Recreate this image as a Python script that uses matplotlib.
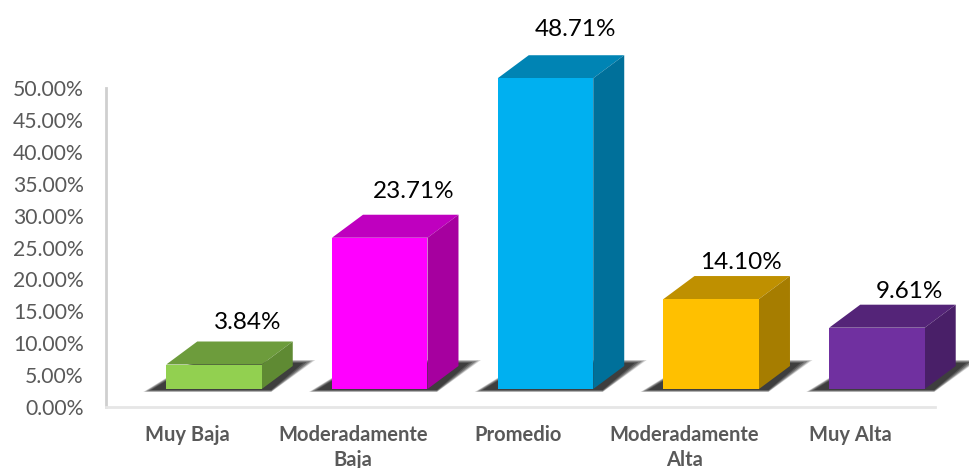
import matplotlib
matplotlib.use('Agg')
import matplotlib.pyplot as plt

plt.rcParams['font.family'] = ['Lato', 'DejaVu Sans']

categorias = ['Muy Baja', 'Moderadamente\nBaja', 'Promedio', 'Moderadamente\nAlta', 'Muy Alta']
valores = [3.84, 23.71, 48.71, 14.10, 9.61]
etiquetas = ['3.84%', '23.71%', '48.71%', '14.10%', '9.61%']
ticks_y = [0, 5, 10, 15, 20, 25, 30, 35, 40, 45, 50]

color_frente = ['#92D050', '#FF00FF', '#00B0F0', '#FFC000', '#7030A0']
color_arriba = ['#6D9C3C', '#BF00BF', '#0084B4', '#BF9000', '#542478']
color_lado = ['#5F8A33', '#A6009F', '#00709A', '#A67D00', '#491F68']

# desplazamiento a mano de cada etiqueta respecto a la cara frontal (px)
etiqueta_dx = [34, 34, 30, 30, 32]
etiqueta_dy = [42, 46, 49, 37, 36]

W, H = 969, 468
IZQ, DER, ABAJO, ARRIBA = 106, 935, 407, 88  # ejes en px

fig = plt.figure(figsize=(W / 100, H / 100), dpi=100)
ax = fig.add_axes([IZQ / W, 1 - ABAJO / H, (DER - IZQ) / W, (ABAJO - ARRIBA) / H])
ax.set_xlim(-0.4887, 4.513)
ax.set_ylim(0, 50)

px_x = 165.75  # px por categoria
px_y = (ABAJO - ARRIBA) / 50.0  # px por 1%


def ux(p):
    return p / px_x


def uy(p):
    return p / px_y


piso = uy(18)  # las barras no salen del eje, sino de un piso 18 px arriba
ancho = ux(95.5)
off = ux(27)
fx = ux(31)
fy = uy(23)


def sombra(x0):
    # capas para simular el difuminado de la sombra
    capas = [(0, 0.18), (2, 0.25), (4, 0.32), (7, 0.4), (10, 0.45)]
    for m, a in capas:
        xs = [x0 + ux(-23 + m * 0.8), x0 + ux(105), x0 + ux(149 - m * 1.2), x0 + ux(29)]
        ys = [piso - uy(3 - m * 0.2), piso - uy(3 - m * 0.2), piso + uy(29 - m * 0.3), piso + uy(29 - m * 0.3)]
        ax.fill(xs, ys, color='#202020', alpha=a, lw=0, zorder=2, clip_on=False)


for i, v in enumerate(valores):
    x0 = i + off - ancho / 2
    x1 = x0 + ancho
    techo = piso + v

    sombra(x0)

    ax.fill([x0, x1, x1, x0], [piso, piso, techo, techo], color=color_frente[i], lw=0, zorder=4, clip_on=False)
    ax.fill([x0, x1, x1 + fx, x0 + fx], [techo, techo, techo + fy, techo + fy],
            color=color_arriba[i], lw=0, zorder=3, clip_on=False)
    ax.fill([x1, x1 + fx, x1 + fx, x1], [piso, piso + fy, techo + fy, techo],
            color=color_lado[i], lw=0, zorder=3, clip_on=False)

    ax.annotate(etiquetas[i], xy=(x0 + ancho / 2, techo),
                xytext=(etiqueta_dx[i], etiqueta_dy[i]), textcoords='offset pixels',
                ha='center', va='center', fontsize=17.5, color='black',
                annotation_clip=False, zorder=6)

for s in ['top', 'right']:
    ax.spines[s].set_visible(False)
ax.spines['left'].set_color('#CFCFCF')
ax.spines['left'].set_linewidth(2)
ax.spines['bottom'].set_color('#E6E6E6')
ax.spines['bottom'].set_linewidth(2)

ax.set_yticks(ticks_y)
ax.set_yticklabels(['%.2f%%' % t for t in ticks_y], fontsize=15.2, color='#595959')
ax.tick_params(axis='y', length=0, pad=16)

ax.set_xticks(range(len(categorias)))
ax.set_xticklabels(categorias, fontsize=14.5, fontweight='bold', color='#595959', linespacing=1.3)
ax.tick_params(axis='x', length=0, pad=13)

fig.savefig('out.png', dpi=100)
